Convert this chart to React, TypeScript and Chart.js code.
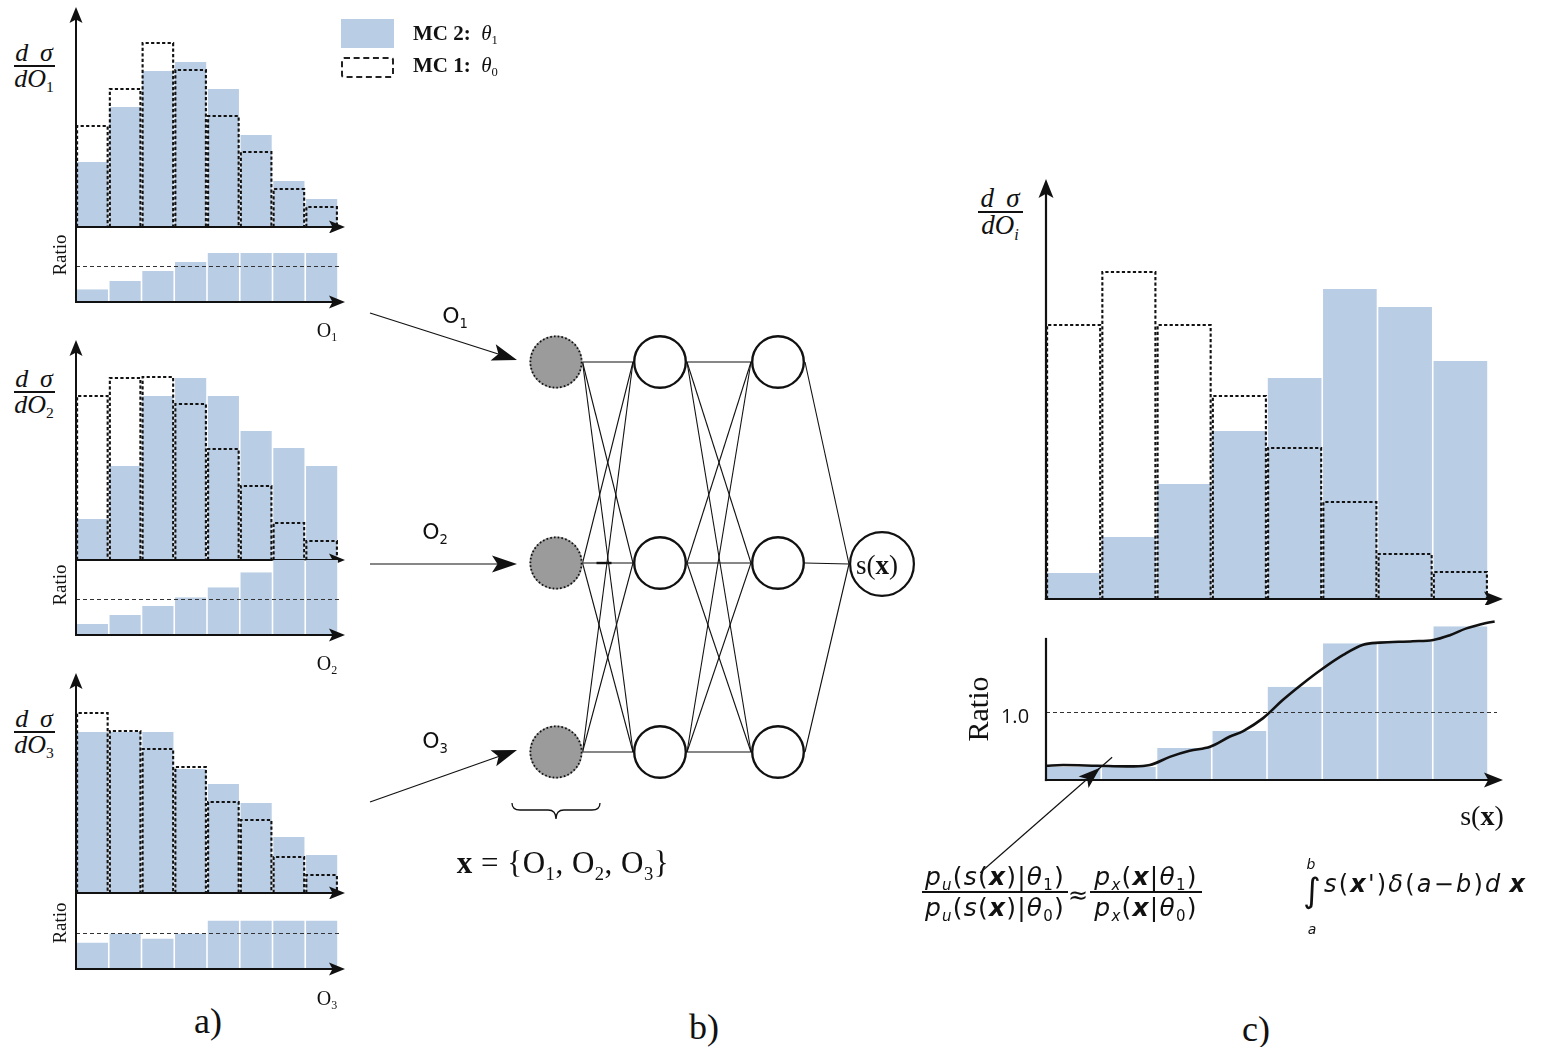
import { useEffect, useRef } from 'react';
import { Chart, registerables } from 'chart.js';

Chart.register(...registerables);

const BLUE = '#b9cde5';
const INK = '#111111';
const SERIF = '"Liberation Serif", "DejaVu Serif", serif';
const SANS = '"DejaVu Sans", "Liberation Sans", sans-serif';
const MATH = '"DejaVu Sans", "Liberation Sans", sans-serif';

// Eight equal-width bins shared by every histogram (bin centres on a 0..8 axis)
const BIN_CENTERS = [0.5, 1.5, 2.5, 3.5, 4.5, 5.5, 6.5, 7.5];

// a) observable O1: dσ/dO1 for MC 2 (θ1) and MC 1 (θ0), and the MC2/MC1 ratio
const O1_MC2 = [6.5, 12.0, 15.6, 16.5, 13.8, 9.2, 4.6, 2.8];
const O1_MC1 = [10.1, 13.8, 18.4, 15.7, 11.1, 7.5, 3.8, 2.0];
const O1_RATIO = [0.36, 0.59, 0.87, 1.12, 1.37, 1.37, 1.37, 1.37];

// a) observable O2
const O2_MC2 = [4.1, 9.4, 16.4, 18.2, 16.4, 12.9, 11.2, 9.4];
const O2_MC1 = [16.4, 18.2, 18.3, 15.6, 11.1, 7.4, 3.7, 1.9];
const O2_RATIO = [0.31, 0.56, 0.81, 1.06, 1.34, 1.76, 2.1, 2.1];

// a) observable O3
const O3_MC2 = [16.1, 16.1, 16.1, 12.4, 10.9, 9.0, 5.6, 3.8];
const O3_MC1 = [18.0, 16.2, 14.4, 12.6, 9.1, 7.3, 3.6, 1.8];
const O3_RATIO = [0.73, 0.98, 0.84, 0.98, 1.34, 1.34, 1.34, 1.34];

// c) learned summary s(x)
const S_MC2 = [2.6, 6.2, 11.5, 16.8, 22.1, 31.0, 29.2, 23.8];
const S_MC1 = [27.4, 32.7, 27.4, 20.3, 15.1, 9.7, 4.5, 2.7];
const S_RATIO = [0.19, 0.19, 0.47, 0.72, 1.37, 2.01, 2.03, 2.26];

// c) smooth density-ratio estimate along s(x)
const S_FIT_X = [0, 0.31, 0.92, 1.52, 1.88, 2.24, 2.6, 2.97, 3.33, 3.57, 3.93, 4.29, 4.65, 5.01, 5.38, 5.74, 6.04, 6.64, 7.01, 7.31, 7.61, 7.97, 8.12];
const S_FIT_Y = [0.21, 0.22, 0.21, 0.2, 0.22, 0.34, 0.43, 0.49, 0.64, 0.72, 0.91, 1.18, 1.42, 1.64, 1.84, 1.99, 2.02, 2.04, 2.06, 2.13, 2.23, 2.31, 2.33];

// b) network: nodes per layer (inputs O1..O3, two hidden layers, output s(x))
const LAYER_SIZES = [3, 3, 3, 1];

// network layout on the page
const NET_LAYER_X = [556, 660, 778, 882];
const NET_ROW_Y = [362, 563, 752];
const NET_OUT_Y = 564;
const NET_R = [26.5, 27, 27, 33];
const INPUT_ARROWS = [
  { from: [370, 313], to: [517, 360] },
  { from: [370, 564], to: [517, 564] },
  { from: [370, 802], to: [517, 750] },
];

type Box = { left: number; top: number; right: number; bottom: number };
type HistSpec = {
  area: Box;
  pad: { l: number; t: number; r: number; b: number };
  yMax: number;
  fill: number[];
  outline?: number[];
  fit?: { x: number[]; y: number[] };
  refValue?: number;
  refExt?: number;
  yAxisTo?: number;
  yArrow: boolean;
  xExt: number;
  head: [number, number];
  axisWidth: number;
  pointer?: { x: number; y: number; dx: number; dy: number };
};

function arrowHead(ctx: CanvasRenderingContext2D, tipX: number, tipY: number, dirX: number, dirY: number, len: number, half: number) {
  const n = Math.hypot(dirX, dirY) || 1;
  const ux = dirX / n, uy = dirY / n;
  const px = -uy, py = ux;
  const bx = tipX - ux * len, by = tipY - uy * len;
  const nx = tipX - ux * len * 0.78, ny = tipY - uy * len * 0.78;
  ctx.beginPath();
  ctx.moveTo(tipX, tipY);
  ctx.lineTo(bx + px * half, by + py * half);
  ctx.lineTo(nx, ny);
  ctx.lineTo(bx - px * half, by - py * half);
  ctx.closePath();
  ctx.fill();
}

function histDecor(s: HistSpec) {
  return {
    id: 'histDecor',
    afterDatasetsDraw(chart: any) {
      const { ctx, chartArea: a, scales } = chart;
      const xs = scales.x, ys = scales.y;
      ctx.save();
      // MC 1 histogram as dashed outlines
      if (s.outline) {
        const meta = chart.getDatasetMeta(1);
        ctx.strokeStyle = INK;
        ctx.lineWidth = 2.1;
        ctx.setLineDash([3.2, 2.3]);
        meta.data.forEach((el: any) => {
          const p = el.getProps(['x', 'y', 'base', 'width'], true);
          const l = p.x - p.width / 2 + 1.1;
          const r = p.x + p.width / 2 - 1.1;
          ctx.beginPath();
          ctx.moveTo(l, p.base);
          ctx.lineTo(l, p.y);
          ctx.lineTo(r, p.y);
          ctx.lineTo(r, p.base);
          ctx.stroke();
        });
      }
      // reference line at ratio = 1
      if (s.refValue !== undefined) {
        const yy = Math.round(ys.getPixelForValue(s.refValue)) + 0.5;
        ctx.strokeStyle = '#333';
        ctx.lineWidth = 1.1;
        ctx.setLineDash([4, 3]);
        ctx.beginPath();
        ctx.moveTo(a.left, yy);
        ctx.lineTo(a.right + (s.refExt || 0), yy);
        ctx.stroke();
      }
      // axes
      ctx.setLineDash([]);
      ctx.strokeStyle = INK;
      ctx.fillStyle = INK;
      ctx.lineWidth = s.axisWidth;
      const [hl, hh] = s.head;
      const yTop = s.yAxisTo !== undefined ? ys.getPixelForValue(s.yAxisTo) : a.top;
      ctx.beginPath();
      ctx.moveTo(a.left, a.bottom + s.axisWidth / 2);
      ctx.lineTo(a.left, s.yArrow ? yTop + hl * 0.7 : yTop);
      ctx.stroke();
      if (s.yArrow) arrowHead(ctx, a.left, yTop, 0, -1, hl, hh);
      const xTip = a.right + s.xExt;
      ctx.beginPath();
      ctx.moveTo(a.left - s.axisWidth / 2, a.bottom);
      ctx.lineTo(xTip - hl * 0.7, a.bottom);
      ctx.stroke();
      arrowHead(ctx, xTip, a.bottom, 1, 0, hl, hh);
      // pointer from the formula to the fitted curve
      if (s.pointer) {
        const tx = xs.getPixelForValue(s.pointer.x);
        const ty = ys.getPixelForValue(s.pointer.y);
        const fx = tx + s.pointer.dx, fy = ty + s.pointer.dy;
        ctx.lineWidth = 1.2;
        ctx.beginPath();
        ctx.moveTo(fx, fy);
        ctx.lineTo(tx - s.pointer.dx * 0.1, ty - s.pointer.dy * 0.1);
        ctx.stroke();
        arrowHead(ctx, tx, ty, -s.pointer.dx, -s.pointer.dy, 22, 7.5);
      }
      ctx.restore();
    },
  };
}

function Hist({ spec }: { spec: HistSpec }) {
  const ref = useRef<HTMLCanvasElement>(null);
  const s = spec;
  const w = s.area.right - s.area.left + s.pad.l + s.pad.r;
  const h = s.area.bottom - s.area.top + s.pad.t + s.pad.b;
  const binWidth = (s.area.right - s.area.left) / BIN_CENTERS.length;
  useEffect(() => {
    const datasets: any[] = [
      {
        type: 'bar',
        data: BIN_CENTERS.map((x, i) => ({ x, y: s.fill[i] })),
        backgroundColor: BLUE,
        borderColor: '#ffffff',
        borderWidth: { left: 0.8, right: 0.8, top: 0, bottom: 0 },
        barThickness: binWidth,
        grouped: false,
        inflateAmount: 0,
        order: 3,
      },
    ];
    if (s.outline) {
      datasets.push({
        type: 'bar',
        data: BIN_CENTERS.map((x, i) => ({ x, y: s.outline![i] })),
        backgroundColor: 'rgba(0,0,0,0)',
        borderWidth: 0,
        barThickness: binWidth,
        grouped: false,
        inflateAmount: 0,
        order: 2,
      });
    }
    if (s.fit) {
      datasets.push({
        type: 'line',
        data: s.fit.x.map((x, i) => ({ x, y: s.fit!.y[i] })),
        borderColor: INK,
        borderWidth: 2.6,
        pointRadius: 0,
        tension: 0.35,
        clip: false,
        order: 1,
      });
    }
    const chart = new Chart(ref.current!, {
      type: 'bar',
      data: { datasets },
      options: {
        animation: false,
        responsive: false,
        events: [],
        layout: { autoPadding: false, padding: { left: s.pad.l, top: s.pad.t, right: s.pad.r, bottom: s.pad.b } },
        plugins: { legend: { display: false }, tooltip: { enabled: false } },
        scales: {
          x: { type: 'linear', min: 0, max: BIN_CENTERS.length, display: false, offset: false, ticks: { stepSize: 1 } },
          y: { type: 'linear', min: 0, max: s.yMax, display: false },
        },
      } as any,
      plugins: [histDecor(s)],
    });
    return () => chart.destroy();
  }, []);
  return (
    <canvas
      ref={ref}
      width={w}
      height={h}
      style={{ position: 'absolute', left: s.area.left - s.pad.l, top: s.area.top - s.pad.t, width: w, height: h }}
    />
  );
}

const A_PAD_MAIN = { l: 12, t: 4, r: 22, b: 6 };
const A_PAD_RATIO = { l: 12, t: 6, r: 22, b: 8 };

const HISTS: HistSpec[] = [
  { area: { left: 76, right: 338, top: 7, bottom: 227 }, pad: A_PAD_MAIN, yMax: 22, fill: O1_MC2, outline: O1_MC1, yArrow: true, xExt: 7, head: [16, 6.5], axisWidth: 2 },
  { area: { left: 76, right: 338, top: 227, bottom: 302 }, pad: A_PAD_RATIO, yMax: 2.1, fill: O1_RATIO, refValue: 1, refExt: 4, yArrow: false, xExt: 7, head: [16, 6.5], axisWidth: 2 },
  { area: { left: 76, right: 338, top: 340, bottom: 560 }, pad: A_PAD_MAIN, yMax: 22, fill: O2_MC2, outline: O2_MC1, yArrow: true, xExt: 7, head: [16, 6.5], axisWidth: 2 },
  { area: { left: 76, right: 338, top: 560, bottom: 635 }, pad: A_PAD_RATIO, yMax: 2.1, fill: O2_RATIO, refValue: 1, refExt: 4, yArrow: false, xExt: 7, head: [16, 6.5], axisWidth: 2 },
  { area: { left: 76, right: 338, top: 673, bottom: 893 }, pad: A_PAD_MAIN, yMax: 22, fill: O3_MC2, outline: O3_MC1, yArrow: true, xExt: 7, head: [16, 6.5], axisWidth: 2 },
  { area: { left: 76, right: 338, top: 893, bottom: 969 }, pad: A_PAD_RATIO, yMax: 2.1, fill: O3_RATIO, refValue: 1, refExt: 4, yArrow: false, xExt: 7, head: [16, 6.5], axisWidth: 2 },
  { area: { left: 1046, right: 1488, top: 179, bottom: 599 }, pad: { l: 12, t: 4, r: 26, b: 6 }, yMax: 42, fill: S_MC2, outline: S_MC1, yArrow: true, xExt: 15, head: [19, 7.5], axisWidth: 2.2 },
  {
    area: { left: 1046, right: 1488, top: 620, bottom: 780 }, pad: { l: 110, t: 6, r: 26, b: 110 }, yMax: 2.353,
    fill: S_RATIO, fit: { x: S_FIT_X, y: S_FIT_Y }, refValue: 1, refExt: 9, yAxisTo: 2.09, yArrow: false, xExt: 15, head: [19, 7.5], axisWidth: 2.2,
    pointer: { x: 0.98, y: 0.18, dx: -120, dy: 105 },
  },
];

function Network() {
  const ref = useRef<HTMLCanvasElement>(null);
  const box = { left: 360, top: 290, right: 930, bottom: 890 };
  useEffect(() => {
    const rows = LAYER_SIZES.map((n) => (n === 1 ? [NET_OUT_Y] : NET_ROW_Y.slice(0, n)));
    const datasets: any[] = [];
    // fully connected edges between neighbouring layers
    for (let l = 0; l < LAYER_SIZES.length - 1; l++) {
      for (const y0 of rows[l]) {
        for (const y1 of rows[l + 1]) {
          datasets.push({
            data: [
              { x: NET_LAYER_X[l] + NET_R[l], y: y0 },
              { x: NET_LAYER_X[l + 1] - NET_R[l + 1], y: y1 },
            ],
            showLine: true,
            borderColor: INK,
            borderWidth: 1.1,
            pointRadius: 0,
            order: 3,
          });
        }
      }
    }
    // observables feeding the input nodes
    INPUT_ARROWS.forEach((a) => {
      const dx = a.to[0] - a.from[0], dy = a.to[1] - a.from[1];
      const n = Math.hypot(dx, dy);
      datasets.push({
        data: [
          { x: a.from[0], y: a.from[1] },
          { x: a.to[0] - (dx / n) * 18, y: a.to[1] - (dy / n) * 18 },
        ],
        showLine: true,
        borderColor: INK,
        borderWidth: 1.2,
        pointRadius: 0,
        order: 3,
      });
    });
    // nodes
    const styles = [
      { bg: '#9b9b9b', bw: 0 },
      { bg: '#ffffff', bw: 2.4 },
      { bg: '#ffffff', bw: 2.4 },
      { bg: '#ffffff', bw: 2.2 },
    ];
    rows.forEach((ys, l) => {
      datasets.push({
        data: ys.map((y) => ({ x: NET_LAYER_X[l], y })),
        pointRadius: NET_R[l] - styles[l].bw / 2,
        pointBackgroundColor: styles[l].bg,
        pointBorderColor: INK,
        pointBorderWidth: styles[l].bw,
        clip: false,
        order: 1,
      });
    });
    const chart = new Chart(ref.current!, {
      type: 'scatter',
      data: { datasets },
      options: {
        animation: false,
        responsive: false,
        events: [],
        layout: { autoPadding: false, padding: 0 },
        plugins: { legend: { display: false }, tooltip: { enabled: false } },
        scales: {
          x: { type: 'linear', min: box.left, max: box.right, display: false },
          y: { type: 'linear', min: box.top, max: box.bottom, reverse: true, display: false },
        },
      } as any,
      plugins: [
        {
          id: 'netDecor',
          afterDatasetsDraw(c: any) {
            const { ctx } = c;
            const X = (v: number) => c.scales.x.getPixelForValue(v);
            const Y = (v: number) => c.scales.y.getPixelForValue(v);
            ctx.save();
            // dotted rims of the input nodes
            ctx.strokeStyle = INK;
            ctx.lineWidth = 1.8;
            ctx.setLineDash([1.6, 2.2]);
            rows[0].forEach((y) => {
              ctx.beginPath();
              ctx.arc(X(NET_LAYER_X[0]), Y(y), NET_R[0] - 0.9, 0, Math.PI * 2);
              ctx.stroke();
            });
            ctx.setLineDash([]);
            // short heavy stroke on the middle input link
            ctx.lineWidth = 2.4;
            ctx.beginPath();
            ctx.moveTo(X(NET_LAYER_X[0] + NET_R[0] + 14), Y(rows[0][1]));
            ctx.lineTo(X(NET_LAYER_X[0] + NET_R[0] + 29), Y(rows[0][1]));
            ctx.stroke();
            // arrow heads on the inputs
            ctx.fillStyle = INK;
            INPUT_ARROWS.forEach((a) => {
              arrowHead(ctx, X(a.to[0]), Y(a.to[1]), a.to[0] - a.from[0], a.to[1] - a.from[1], 25, 8.5);
            });
            // brace under the input layer
            const cx = X(NET_LAYER_X[0]);
            const l = cx - 44, r = cx + 44, t = Y(803), m = Y(810), b = Y(819);
            ctx.lineWidth = 1.3;
            ctx.beginPath();
            ctx.moveTo(l, t);
            ctx.quadraticCurveTo(l, m, l + 8, m);
            ctx.lineTo(cx - 8, m);
            ctx.quadraticCurveTo(cx, m, cx, b);
            ctx.quadraticCurveTo(cx, m, cx + 8, m);
            ctx.lineTo(r - 8, m);
            ctx.quadraticCurveTo(r, m, r, t);
            ctx.stroke();
            ctx.restore();
          },
        },
      ],
    });
    return () => chart.destroy();
  }, []);
  const w = box.right - box.left, h = box.bottom - box.top;
  return <canvas ref={ref} width={w} height={h} style={{ position: 'absolute', left: box.left, top: box.top, width: w, height: h }} />;
}

const Sb = ({ children, it }: { children: any; it?: boolean }) => (
  <span style={{ fontSize: '0.6em', position: 'relative', top: '0.35em', fontStyle: it ? 'italic' : 'normal', fontWeight: 400 }}>{children}</span>
);
const I = ({ children }: { children: any }) => <span style={{ fontStyle: 'italic' }}>{children}</span>;
const B = ({ children, it }: { children: any; it?: boolean }) => (
  <span style={{ fontWeight: 700, fontStyle: it ? 'italic' : 'normal' }}>{children}</span>
);

function Txt({ x, y, size, font = SERIF, rot = 0, style, children }: any) {
  return (
    <div
      style={{
        position: 'absolute', left: x, top: y,
        transform: `translate(-50%, -50%)${rot ? ` rotate(${rot}deg)` : ''}`,
        fontSize: size, fontFamily: font, lineHeight: 1, whiteSpace: 'nowrap', color: INK, ...style,
      }}
    >
      {children}
    </div>
  );
}

function Frac({ cx, y, w, size, font, num, den, up = 0, dn = 0, style }: any) {
  const common = { position: 'absolute' as const, left: cx, fontSize: size, fontFamily: font, lineHeight: 1, whiteSpace: 'nowrap' as const, color: INK, ...style };
  return (
    <>
      <div style={{ ...common, top: y - up, transform: 'translate(-50%, -100%)' }}>{num}</div>
      <div style={{ position: 'absolute', left: cx - w / 2, top: y - 1, width: w, height: 2, background: INK }} />
      <div style={{ ...common, top: y + dn, transform: 'translate(-50%, 0)' }}>{den}</div>
    </>
  );
}

function LegendText({ x, y, label, sub }: { x: number; y: number; label: string; sub: string }) {
  return (
    <div style={{ position: 'absolute', left: x, top: y, fontSize: 21, fontFamily: SERIF, lineHeight: 1, whiteSpace: 'nowrap', color: INK }}>
      <b>{label}</b>&nbsp;&nbsp;<I>θ</I><Sb>{sub}</Sb>
    </div>
  );
}

const SIGMA_NUM = <span>d&thinsp;&nbsp;σ</span>;

export default function App() {
  useEffect(() => {
    document.body.style.margin = '0';
  }, []);
  const fracs = [
    { cx: 34, y: 66, sub: '1' },
    { cx: 34, y: 392, sub: '2' },
    { cx: 34, y: 732, sub: '3' },
  ];
  return (
    <div style={{ position: 'absolute', left: 0, top: 0, width: 1542, height: 1047, background: '#fff', overflow: 'hidden', fontFamily: SERIF, color: INK }}>
      {HISTS.map((s, i) => (
        <Hist key={i} spec={s} />
      ))}
      <Network />

      {/* legend */}
      <div style={{ position: 'absolute', left: 341, top: 19, width: 53, height: 29, background: BLUE }} />
      <div style={{ position: 'absolute', left: 341, top: 57, width: 53, height: 21, border: '2px dashed #222', borderRadius: 3, boxSizing: 'border-box' }} />
      <LegendText x={413} y={23} label="MC 2:" sub="1" />
      <LegendText x={413} y={55} label="MC 1:" sub="0" />

      {/* panel a) labels */}
      {fracs.map((f, i) => (
        <Frac key={i} cx={f.cx} y={f.y} w={41} size={26} font={SERIF} num={SIGMA_NUM} den={<span>dO<Sb>{f.sub}</Sb></span>} style={{ fontStyle: 'italic' }} />
      ))}
      <Txt x={59} y={255} size={19} rot={-90}>Ratio</Txt>
      <Txt x={59} y={585} size={19} rot={-90}>Ratio</Txt>
      <Txt x={59} y={923} size={19} rot={-90}>Ratio</Txt>
      <Txt x={327} y={330} size={20}>O<Sb>1</Sb></Txt>
      <Txt x={327} y={663} size={20}>O<Sb>2</Sb></Txt>
      <Txt x={327} y={998} size={20}>O<Sb>3</Sb></Txt>
      <Txt x={208} y={1021} size={36}>a)</Txt>

      {/* panel b) labels */}
      <Txt x={455} y={316} size={22} font={SANS}>O<Sb>1</Sb></Txt>
      <Txt x={435} y={532} size={22} font={SANS}>O<Sb>2</Sb></Txt>
      <Txt x={435} y={741} size={22} font={SANS}>O<Sb>3</Sb></Txt>
      <Txt x={877} y={565} size={27}>s(<B>x</B>)</Txt>
      <Txt x={563} y={862} size={31} style={{ letterSpacing: 0.5 }}>
        <B>x</B> = {'{'}O<Sb>1</Sb>, O<Sb>2</Sb>, O<Sb>3</Sb>{'}'}
      </Txt>
      <Txt x={704} y={1027} size={36}>b)</Txt>

      {/* panel c) labels */}
      <Frac cx={1000} y={212} w={45} size={27} font={SERIF} num={SIGMA_NUM} den={<span>dO<Sb it>i</Sb></span>} style={{ fontStyle: 'italic' }} />
      <Txt x={978} y={709} size={30} rot={-90}>Ratio</Txt>
      <Txt x={1015} y={716} size={20} font={'"Open Sans", sans-serif'}>1.0</Txt>
      <Txt x={1482} y={816} size={28}>s(<B>x</B>)</Txt>
      <Frac
        cx={995} y={892} w={146} size={25} font={MATH} up={3} dn={3} style={{ letterSpacing: 1.2 }}
        num={<span><I>p</I><Sb it>u</Sb>(<I>s</I>(<B it>x</B>)|<I>θ</I><Sb>1</Sb>)</span>}
        den={<span><I>p</I><Sb it>u</Sb>(<I>s</I>(<B it>x</B>)|<I>θ</I><Sb>0</Sb>)</span>}
      />
      <Txt x={1078} y={895} size={24} font={MATH}>≈</Txt>
      <Frac
        cx={1146} y={892} w={112} size={25} font={MATH} up={3} dn={3} style={{ letterSpacing: 1.2 }}
        num={<span><I>p</I><Sb it>x</Sb>(<B it>x</B>|<I>θ</I><Sb>1</Sb>)</span>}
        den={<span><I>p</I><Sb it>x</Sb>(<B it>x</B>|<I>θ</I><Sb>0</Sb>)</span>}
      />
      <Txt x={1312} y={890} size={34} font={MATH}>∫</Txt>
      <Txt x={1311} y={864} size={14} font={MATH}><I>b</I></Txt>
      <Txt x={1312} y={929} size={14} font={MATH}><I>a</I></Txt>
      <div style={{ position: 'absolute', left: 1324, top: 872, fontSize: 24, fontFamily: MATH, lineHeight: 1, whiteSpace: 'nowrap', letterSpacing: 2.2 }}>
        <I>s</I>(<B it>x</B>')<I>δ</I>(<I>a</I>−<I>b</I>)<I>d</I>&thinsp;<B it>x</B>
      </div>
      <Txt x={1256} y={1029} size={36}>c)</Txt>
    </div>
  );
}
